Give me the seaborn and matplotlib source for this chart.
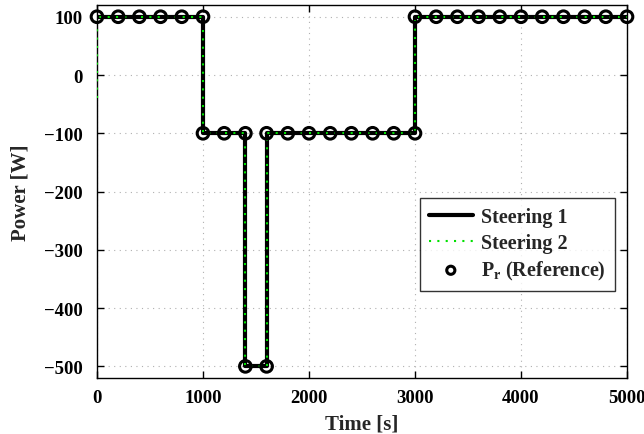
import matplotlib
matplotlib.use("Agg")
import matplotlib.pyplot as plt
import seaborn as sns
import pandas as pd

# Data
steer1_t = [0, 1000, 1000, 1400, 1400, 1600, 1600, 3000, 3000, 5000]
steer1_p = [100, 100, -100, -100, -500, -500, -100, -100, 100, 100]
steer2_t = [0, 0, 1000, 1000, 1400, 1400, 1600, 1600, 3000, 3000, 5000]
steer2_p = [-40, 100, 100, -100, -100, -500, -500, -100, -100, 100, 100]
ref_t = [0, 200, 400, 600, 800, 1000, 1000, 1200, 1400, 1400, 1600, 1600,
         1800, 2000, 2200, 2400, 2600, 2800, 3000, 3000, 3200, 3400, 3600,
         3800, 4000, 4200, 4400, 4600, 4800, 5000]
ref_p = [100, 100, 100, 100, 100, 100, -100, -100, -100, -500, -500, -100,
         -100, -100, -100, -100, -100, -100, -100, 100, 100, 100, 100,
         100, 100, 100, 100, 100, 100, 100]
xticks = [0, 1000, 2000, 3000, 4000, 5000]
yticks = [-500, -400, -300, -200, -100, 0, 100]

sns.set_style("white")
plt.rcParams['font.family'] = ['Liberation Serif', 'DejaVu Serif']
plt.rcParams['font.weight'] = 'bold'
plt.rcParams['mathtext.fontset'] = 'custom'
plt.rcParams['mathtext.rm'] = 'Liberation Serif:bold'
plt.rcParams['mathtext.bf'] = 'Liberation Serif:bold'
plt.rcParams['mathtext.it'] = 'Liberation Serif:bold'

fig = plt.figure(figsize=(6.44, 4.35), dpi=100)
ax = fig.add_axes([0.1506, 0.1287, 0.823, 0.8573])

d1 = pd.DataFrame({"t": steer1_t, "p": steer1_p})
d2 = pd.DataFrame({"t": steer2_t, "p": steer2_p})
dr = pd.DataFrame({"t": ref_t, "p": ref_p})

sns.lineplot(data=d1, x="t", y="p", ax=ax, estimator=None, sort=False,
             color="black", linewidth=3, label="Steering 1", zorder=3)
sns.lineplot(data=d2, x="t", y="p", ax=ax, estimator=None, sort=False,
             color="#00e000", linewidth=1.5, linestyle=(0, (1, 3)),
             label="Steering 2", zorder=4)
sns.scatterplot(data=dr, x="t", y="p", ax=ax, marker="o", s=70,
                facecolor="none", edgecolor="black", linewidth=2.2,
                label=r"$\mathrm{P_r}$ (Reference)", zorder=5, clip_on=False)

ax.set_xlim(0, 5000)
ax.set_ylim(-520, 120)
ax.set_xticks(xticks)
ax.set_yticks(yticks)
ax.grid(True, color="#b0b0b0", linestyle=(0, (1, 4)), linewidth=0.8)
for s in ax.spines.values():
    s.set_color("black")
    s.set_linewidth(1.0)
ax.tick_params(direction="in", length=5, width=1, labelsize=13.5, colors="black",
               top=True, right=True, bottom=True, left=True)
ax.tick_params(axis="x", pad=8)
ax.tick_params(axis="y", pad=10)
for lbl in ax.get_xticklabels() + ax.get_yticklabels():
    lbl.set_fontweight("bold")
ax.set_xlabel("Time [s]", fontsize=15, fontweight="bold", labelpad=5)
ax.set_ylabel("Power [W]", fontsize=15, fontweight="bold", labelpad=10)

leg = ax.legend(loc="lower right", bbox_to_anchor=(0.977, 0.233),
                borderaxespad=0.0,
                fontsize=14.5, frameon=True, fancybox=False, edgecolor="black",
                borderpad=0.45, handlelength=2.2, labelspacing=0.3,
                handletextpad=0.4, markerscale=0.7)
leg.get_frame().set_linewidth(1.0)
for t in leg.get_texts():
    t.set_fontweight("bold")

fig.savefig("out.png", dpi=100)
